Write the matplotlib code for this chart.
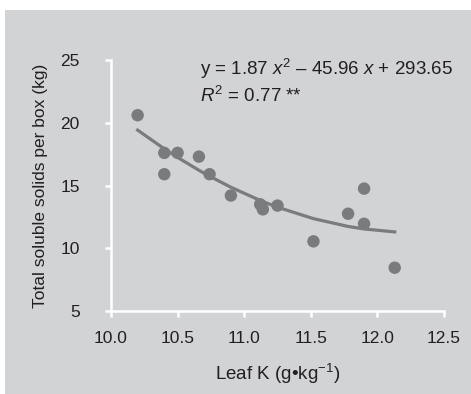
import numpy as np
import matplotlib.pyplot as plt
from matplotlib.patches import Rectangle

plt.rcParams['font.family'] = ['Liberation Sans', 'DejaVu Sans']
plt.rcParams['mathtext.fontset'] = 'custom'
plt.rcParams['mathtext.rm'] = 'Liberation Sans'
plt.rcParams['mathtext.it'] = 'Liberation Sans:italic'

# data
leaf_k = [10.20, 10.40, 10.40, 10.50, 10.66, 10.74, 10.90, 11.12, 11.14,
          11.25, 11.52, 11.78, 11.90, 11.90, 12.13]
solids = [20.6, 17.6, 15.9, 17.6, 17.3, 15.9, 14.2, 13.5, 13.1,
          13.4, 10.55, 12.75, 14.75, 11.95, 8.45]
fit_coef = [1.87, -45.96, 293.65]

xticks = [10.0, 10.5, 11.0, 11.5, 12.0, 12.5]
yticks = [5, 10, 15, 20, 25]

bg = '#d2d3d5'
dot = '#7a7b7d'
txt = '#231f20'

fig = plt.figure(figsize=(4.71, 3.94), dpi=100)
fig.patch.set_facecolor('white')
fig.patches.append(Rectangle((5 / 471, 0), 1, 1 - 10 / 394, transform=fig.transFigure,
                             facecolor=bg, edgecolor='none', zorder=-10))

ax = fig.add_axes([111 / 471, 1 - 311 / 394, 333 / 471, 251 / 394])
ax.set_facecolor(bg)
ax.patch.set_alpha(0)

# trend line drawn through fitted values at the data x positions
xs = np.unique(leaf_k)
ax.plot(xs, np.polyval(fit_coef, xs), color='#7a7b7d', lw=2.3, zorder=2)
ax.scatter(leaf_k, solids, s=80, color=dot, edgecolors='none', zorder=3)

ax.set_xlim(10.0, 12.5)
ax.set_ylim(5, 25)
ax.set_xticks(xticks)
ax.set_xticklabels(['%.1f' % v for v in xticks])
ax.set_yticks(yticks)

for side in ['top', 'right']:
    ax.spines[side].set_visible(False)
for side in ['left', 'bottom']:
    ax.spines[side].set_color('white')
    ax.spines[side].set_linewidth(1.8)
ax.tick_params(axis='both', colors='white', width=1.8, length=4.5,
               labelsize=12.5, labelcolor=txt)
ax.tick_params(axis='x', pad=10)
ax.tick_params(axis='y', pad=18)

ax.set_xlabel('Leaf K (g\u2022kg$^{\u22121}$)', fontsize=13.5, color=txt, labelpad=11)
ax.set_ylabel('Total soluble solids per box (kg)', fontsize=12.5, color=txt, labelpad=9)

ax.text(200, 394 - 69, 'y = 1.87 $x^{2}$ \u2013 45.96 $x$ + 293.65', transform=None,
        fontsize=13.5, color=txt, va='center', ha='left')
ax.text(200, 394 - 96, '$R^{2}$ = 0.77 **', transform=None,
        fontsize=13.5, color=txt, va='center', ha='left')

fig.savefig('out.png', dpi=100)
